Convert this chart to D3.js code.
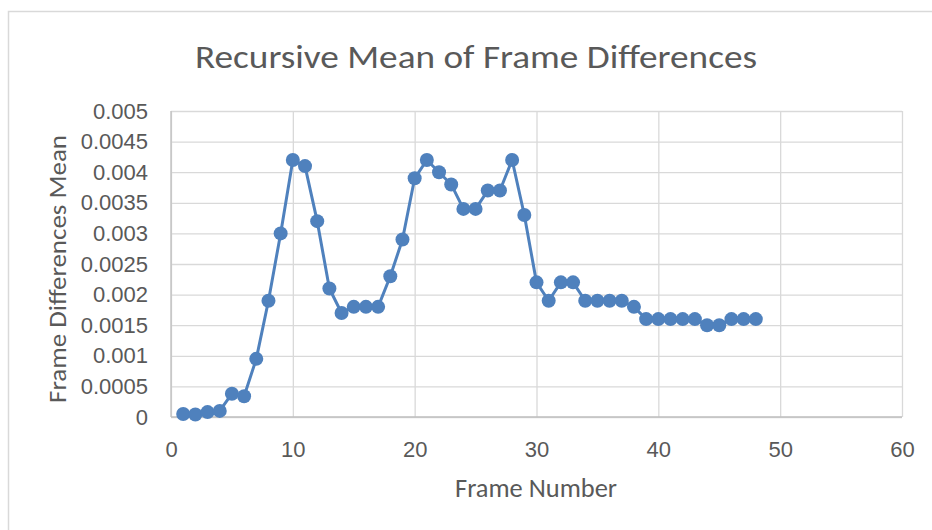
<!DOCTYPE html>
<html>
<head>
<meta charset="utf-8">
<script src="https://cdn.jsdelivr.net/npm/d3@7"></script>
<style>
  html, body { margin: 0; padding: 0; background: #fff; }
  svg { display: block; font-family: Carlito, Calibri, "Open Sans", "Liberation Sans", sans-serif; }
</style>
</head>
<body>
<svg id="chart" width="932" height="530"></svg>
<script>
// Recursive mean of frame differences, one value per frame
const frames = [1,2,3,4,5,6,7,8,9,10,11,12,13,14,15,16,17,18,19,20,21,22,23,24,
  25,26,27,28,29,30,31,32,33,34,35,36,37,38,39,40,41,42,43,44,45,46,47,48];
const meanValues = [0.00005,0.00004,0.00008,0.0001,0.00038,0.00034,0.00095,0.0019,0.003,0.0042,
  0.0041,0.0032,0.0021,0.0017,0.0018,0.0018,0.0018,0.0023,0.0029,0.0039,
  0.0042,0.004,0.0038,0.0034,0.0034,0.0037,0.0037,0.0042,0.0033,0.0022,
  0.0019,0.0022,0.0022,0.0019,0.0019,0.0019,0.0019,0.0018,0.0016,0.0016,
  0.0016,0.0016,0.0016,0.0015,0.0015,0.0016,0.0016,0.0016];
const xTicks = [0,10,20,30,40,50,60];
const yTicks = [0,0.0005,0.001,0.0015,0.002,0.0025,0.003,0.0035,0.004,0.0045,0.005];
const yTickLabels = ["0","0.0005","0.001","0.0015","0.002","0.0025","0.003","0.0035","0.004","0.0045","0.005"];

const svg = d3.select("#chart");
const textColor = "#595959";
const gridColor = "#d9d9d9";
const lineColor = "#4f81bd";

// outer chart frame
svg.append("rect")
  .attr("x", 8.5).attr("y", 11.5)
  .attr("width", 1000).attr("height", 1000)
  .attr("fill", "none").attr("stroke", gridColor).attr("stroke-width", 1.5);

const plotLeft = 171, plotRight = 902, plotTop = 111, plotBottom = 417;
const x = d3.scaleLinear().domain([0, 60]).range([plotLeft, plotRight]);
const y = d3.scaleLinear().domain([0, 0.005]).range([plotBottom, plotTop]);

// horizontal gridlines
svg.append("g")
  .attr("transform", `translate(${plotLeft},0)`)
  .call(d3.axisLeft(y).tickValues(yTicks).tickSize(-(plotRight - plotLeft)).tickFormat(""))
  .call(g => g.select(".domain").remove())
  .call(g => g.selectAll("line").attr("stroke", gridColor).attr("stroke-width", 1.3));

// vertical gridlines
svg.append("g")
  .attr("transform", `translate(0,${plotBottom})`)
  .call(d3.axisBottom(x).tickValues(xTicks).tickSize(-(plotBottom - plotTop)).tickFormat(""))
  .call(g => g.select(".domain").remove())
  .call(g => g.selectAll("line").attr("stroke", gridColor).attr("stroke-width", 1.3));

// axis lines
svg.append("line").attr("x1", plotLeft).attr("x2", plotRight).attr("y1", plotBottom).attr("y2", plotBottom)
  .attr("stroke", "#bfbfbf").attr("stroke-width", 1.3);
svg.append("line").attr("x1", plotLeft).attr("x2", plotLeft).attr("y1", plotTop).attr("y2", plotBottom)
  .attr("stroke", "#bfbfbf").attr("stroke-width", 1.3);

// tick labels
svg.append("g")
  .attr("transform", `translate(${plotLeft - 23},0)`)
  .call(d3.axisLeft(y).tickValues(yTicks).tickSize(0).tickPadding(0)
    .tickFormat((d, i) => yTickLabels[i]))
  .call(g => g.select(".domain").remove())
  .call(g => g.selectAll("text").attr("fill", textColor).attr("font-size", 22)
    .attr("font-family", null));

svg.append("g")
  .attr("transform", `translate(0,457)`)
  .call(d3.axisBottom(x).tickValues(xTicks).tickSize(0).tickPadding(0))
  .call(g => g.select(".domain").remove())
  .call(g => g.selectAll("text").attr("fill", textColor).attr("font-size", 22)
    .attr("font-family", null).attr("y", 0).attr("dy", 0));

// title and axis titles
svg.append("text").attr("x", 476).attr("y", 68).attr("text-anchor", "middle")
  .attr("fill", textColor).attr("font-size", 33)
  .attr("textLength", 562).attr("lengthAdjust", "spacingAndGlyphs")
  .text("Recursive Mean of Frame Differences");
svg.append("text").attr("x", 536).attr("y", 497).attr("text-anchor", "middle")
  .attr("fill", textColor).attr("font-size", 26)
  .attr("textLength", 162).attr("lengthAdjust", "spacingAndGlyphs")
  .text("Frame Number");
svg.append("text").attr("transform", `translate(66,269) rotate(-90)`)
  .attr("text-anchor", "middle")
  .attr("fill", textColor).attr("font-size", 25)
  .attr("textLength", 268).attr("lengthAdjust", "spacingAndGlyphs")
  .text("Frame Differences Mean");

// series line and markers
const pts = frames.map((f, i) => [f, meanValues[i]]);
svg.append("path")
  .datum(pts)
  .attr("fill", "none").attr("stroke", lineColor).attr("stroke-width", 3)
  .attr("stroke-linejoin", "round")
  .attr("d", d3.line().x(d => x(d[0])).y(d => y(d[1])));

svg.append("g").selectAll("circle")
  .data(pts).join("circle")
  .attr("cx", d => x(d[0])).attr("cy", d => y(d[1])).attr("r", 7)
  .attr("fill", lineColor);
</script>
</body>
</html>
